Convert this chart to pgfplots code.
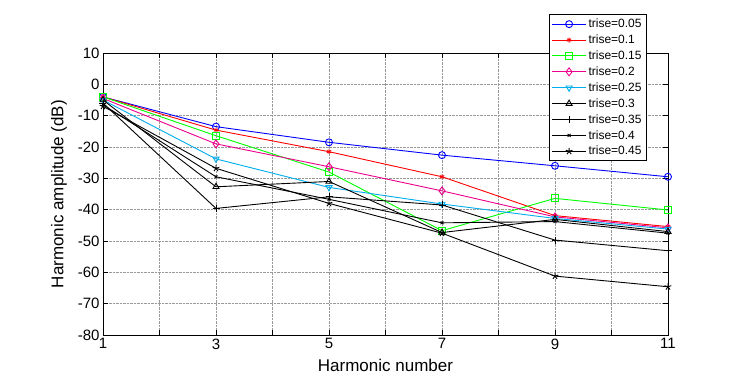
\documentclass[border=0pt]{standalone}
\usepackage{pgfplots}
\pgfplotsset{compat=1.18}
\usepackage{fontspec}
\setmainfont{Liberation Sans}
\begin{document}
\begin{tikzpicture}[x=1pt,y=1pt]
\useasboundingbox (0,0) rectangle (729,381);
\begin{axis}[
 at={(103pt,46pt)}, anchor=south west,
 scale only axis, width=565pt, height=282pt,
 xmin=1,xmax=11,ymin=-80,ymax=10,
 xtick={1,2,...,11}, xticklabels={1,,3,,5,,7,,9,,11},
 ytick={-80,-70,...,10},
 grid=major, major grid style={densely dotted, gray!80, line width=0.6pt},
 tick align=inside, major tick length=5pt,
 tick style={black, line width=0.6pt},
 axis line style={line width=0.8pt},
 /pgf/number format/assume math mode=true,
 ticklabel style={font=\fontsize{15}{17}\selectfont},
 label style={font=\fontsize{17}{19}\selectfont},
 xlabel={Harmonic number}, ylabel={Harmonic amplitude (dB)},
 xlabel style={yshift=-3pt},
 ylabel style={yshift=4pt},
 legend style={at={(0.962,1.138)}, anchor=north east, font=\fontsize{12}{14}\selectfont, draw=black, fill=white, inner sep=2.5pt, row sep=1.7pt, line width=0.9pt},
 legend cell align=left,
 legend image code/.code={\draw[mark repeat=2,mark phase=2] plot coordinates {(0pt,0pt) (17pt,0pt) (34pt,0pt)};},
 clip mode=individual,
 every axis plot/.append style={line width=0.9pt, mark size=3.5pt},
]
\addplot[color=blue, mark=o] coordinates {(1,-4) (3,-13.5) (5,-18.5) (7,-22.6) (9,-26) (11,-29.5)};
\addlegendentry{trise=0.05}
\addplot[color=red, mark=asterisk, mark size=2.5pt] coordinates {(1,-4) (3,-14.6) (5,-21.5) (7,-29.5) (9,-41.9) (11,-45.4)};
\addlegendentry{trise=0.1}
\addplot[color=green, mark=square] coordinates {(1,-4) (3,-16.4) (5,-28) (7,-46.7) (9,-36.4) (11,-40.1)};
\addlegendentry{trise=0.15}
\addplot[color=magenta, mark=diamond, mark size=4pt] coordinates {(1,-4.5) (3,-19) (5,-26.3) (7,-34) (9,-42.3) (11,-45.8)};
\addlegendentry{trise=0.2}
\addplot[color=cyan, mark=triangle, mark options={rotate=180}] coordinates {(1,-5) (3,-23.8) (5,-32.9) (7,-38.2) (9,-42.8) (11,-46.2)};
\addlegendentry{trise=0.25}
\addplot[color=black, mark=triangle] coordinates {(1,-5) (3,-32.7) (5,-31) (7,-47.3) (9,-43.1) (11,-47)};
\addlegendentry{trise=0.3}
\addplot[color=black, mark=+] coordinates {(1,-6) (3,-39.6) (5,-35.9) (7,-38.5) (9,-49.7) (11,-53.1)};
\addlegendentry{trise=0.35}
\addplot[color=black, mark=x, mark size=2pt] coordinates {(1,-6.5) (3,-29.5) (5,-36.7) (7,-44.2) (9,-43.8) (11,-47.5)};
\addlegendentry{trise=0.4}
\addplot[color=black, mark=star] coordinates {(1,-7) (3,-26.8) (5,-38) (7,-47.5) (9,-61.2) (11,-64.6)};
\addlegendentry{trise=0.45}
\end{axis}
\end{tikzpicture}
\end{document}
